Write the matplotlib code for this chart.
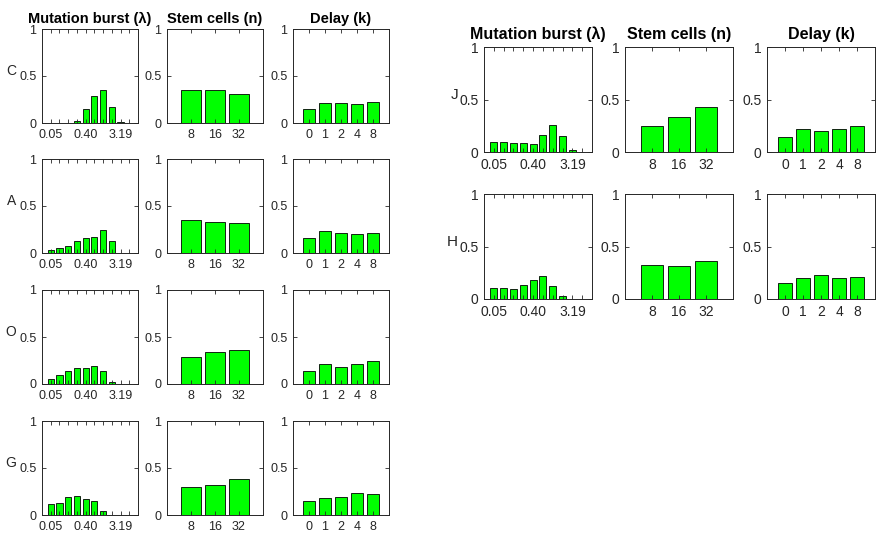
"""
Bar panels: mutation burst, stem cells and delay per sample
"""

# %%
# Import necessary libraries
# ~~~~~~~~~~~~~~~~~~~~~~~~~~

import matplotlib

matplotlib.use("Agg")
import numpy as np
from matplotlib import pyplot as plt

plt.rcParams["font.family"] = ["Liberation Sans", "DejaVu Sans"]

# %%
# Data
# ~~~~~~~~~~~~~~~~~~~~~~~~

burst_ticks = ["0.05", "", "", "", "0.40", "", "", "", "3.19", ""]
stem_ticks = ["8", "16", "32"]
delay_ticks = ["0", "1", "2", "4", "8"]
titles = ["Mutation burst (λ)", "Stem cells (n)", "Delay (k)"]

left_samples = ["C", "A", "O", "G"]
right_samples = ["J", "H"]

burst_C = [0, 0, 0, 0.025, 0.15, 0.29, 0.355, 0.175, 0.007, 0]
stem_C = [0.355, 0.348, 0.305]
delay_C = [0.146, 0.214, 0.21, 0.2, 0.228]

burst_A = [0.035, 0.057, 0.078, 0.128, 0.16, 0.17, 0.24, 0.13, 0.005, 0]
stem_A = [0.351, 0.326, 0.319]
delay_A = [0.158, 0.229, 0.218, 0.204, 0.208]

burst_O = [0.053, 0.095, 0.14, 0.175, 0.175, 0.193, 0.133, 0.02, 0.003, 0]
stem_O = [0.284, 0.337, 0.365]
delay_O = [0.14, 0.21, 0.186, 0.21, 0.246]

burst_G = [0.114, 0.125, 0.196, 0.203, 0.171, 0.153, 0.043, 0.003, 0.002, 0]
stem_G = [0.302, 0.32, 0.384]
delay_G = [0.151, 0.182, 0.189, 0.239, 0.225]

burst_J = [0.098, 0.098, 0.088, 0.088, 0.079, 0.164, 0.256, 0.148, 0.019, 0]
stem_J = [0.252, 0.334, 0.426]
delay_J = [0.142, 0.221, 0.196, 0.218, 0.243]

burst_H = [0.104, 0.101, 0.098, 0.133, 0.177, 0.222, 0.123, 0.028, 0.002, 0]
stem_H = [0.323, 0.31, 0.364]
delay_H = [0.152, 0.199, 0.228, 0.203, 0.209]

panels = {
    "C": (burst_C, stem_C, delay_C),
    "A": (burst_A, stem_A, delay_A),
    "O": (burst_O, stem_O, delay_O),
    "G": (burst_G, stem_G, delay_G),
    "J": (burst_J, stem_J, delay_J),
    "H": (burst_H, stem_H, delay_H),
}

# %%
# Layout in pixels (figure is 881 x 535)
# ~~~~~~~~~~~~~~~~~~~~~~~~~~~~~~~~~~~~~~

W, H = 881, 535
axis_grey = "#262626"

fig = plt.figure(figsize=(W / 100, H / 100), dpi=100)


def add_axes(x, y_top, w, h):
    return fig.add_axes([x / W, 1 - (y_top + h) / H, w / W, h / H])


def draw_panel(ax, values, labels, width, fs):
    x = np.arange(1, len(values) + 1)
    ax.bar(x, values, width=width, color="#00ff00", edgecolor="black", linewidth=0.6)
    ax.set_xlim(0, len(values) + 1)
    ax.set_ylim(0, 1)
    ax.set_xticks(x)
    ax.set_xticklabels(labels)
    ax.set_yticks([0, 0.5, 1])
    ax.set_yticklabels(["0", "0.5", "1"])
    ax.tick_params(direction="in", top=True, right=True, length=3, width=0.6,
                   labelsize=fs, colors=axis_grey, pad=4)
    for s in ax.spines.values():
        s.set_color(axis_grey)
        s.set_linewidth(0.7)


def draw_block(samples, col_x, row_top, w, h, fs, title_fs, letter_fs, pad):
    for r, name in enumerate(samples):
        ax_list = [add_axes(cx, row_top[r], w, h) for cx in col_x]
        for c, (ax, vals, labels) in enumerate(
                zip(ax_list, panels[name], [burst_ticks, stem_ticks, delay_ticks])):
            draw_panel(ax, vals, labels, 0.7 if c == 0 else 0.8, fs)
            if r == 0:
                ax.set_title(titles[c], fontsize=title_fs, fontweight="bold", pad=pad)
        ax_list[0].annotate(name, xy=(0, 0.5), xycoords="axes fraction",
                            xytext=(-26, 5), textcoords="offset pixels",
                            ha="right", va="center", fontsize=letter_fs,
                            color=axis_grey)


# %%
# Draw both blocks
# ~~~~~~~~~~~~~~~~

draw_block(left_samples, [42, 167, 293], [29, 159, 290, 421], 96, 94,
           9, 10.5, 10, 4.5)
draw_block(right_samples, [484, 625, 767], [47, 194], 108, 105,
           10, 11.5, 11, 6)

fig.savefig("out.png", dpi=100)
